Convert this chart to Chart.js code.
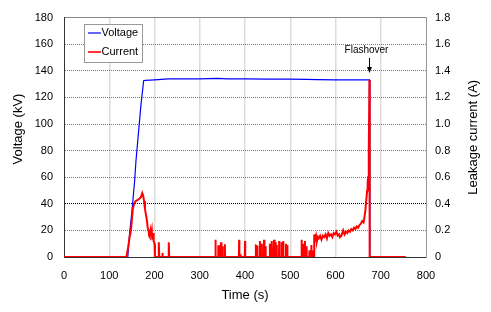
<!DOCTYPE html>
<html>
<head>
<meta charset="utf-8">
<script src="https://cdn.jsdelivr.net/npm/chart.js@4/dist/chart.umd.min.js"></script>
<style>
html,body{margin:0;padding:0;background:#fff;}
canvas{display:block;}
</style>
</head>
<body>
<canvas id="c" width="491" height="312"></canvas>
<script>
// ---- data ----
const xTicks = [0,100,200,300,400,500,600,700,800];
const leftTicks = [0,20,40,60,80,100,120,140,160,180];
const rightTicks = ['0','0.2','0.4','0.6','0.8','1.0','1.2','1.4','1.6','1.8'];
const seriesNames = ['Voltage','Current'];
const xTitle = 'Time (s)';
const leftTitle = 'Voltage (kV)';
const rightTitle = 'Leakage current (A)';
const flashoverLabel = 'Flashover';
const flashoverTime = 675;

const voltageTime = [0,141,145,150,156,159,165,170,176,180,190,200,215,230,260,300,340,360,400,450,500,536,560,600,640,675,676,755];
const voltageKV   = [0,0,18,34,57,72,95,114,132.5,132.8,133,133.2,133.6,134,134,134,134.3,134,134,133.8,133.8,133.5,133.3,133.2,133.2,133.2,0,0];

const currentTime = [0,138,142,145,148,150,152,155,158,163,167,170,173,175,177,179,181,183,185,187,188,189,190,191,192,194,195,197,198,200,201,
 209,209.5,210.5,217,217.5,218,231,231.5,232.5,
 334,334.5,335.5,340.5,341,344.5,345,346.5,347,348,350,350.4,351,355,355.5,356,
 386.5,387,387.5,389.5,390,390.5,399.5,400,400.5,
 423.5,424,427,427.5,432.5,433,434,436,436.7,437.5,441.5,442,443,445,445.5,446,454.5,455,455.5,458.5,459,460,463.5,464,464.5,465.5,466.5,467.5,468,469,470,470.5,475,475.6,476,480.5,481,482,484,484.5,485,490,490.5,491,493,493.4,494,
 524.5,525,525.5,528.5,529,529.5,532,532.5,533,535.5,536,536.5,541.5,542,542.5,546,546.5,547,549,549.5,550,
 552.5,553,555,557,559,561,563,566,569,572,575,578,581,584,587,590,593,596,599,602,605,608,610,613,617,620,623,626,629,632,635,638,641,644,647,650,653,656,659,662,664,666,668,670,671,672,673,674,675,675.5,755];
const currentA = [0,0,0.08,0.15,0.2,0.28,0.36,0.40,0.42,0.43,0.44,0.45,0.48,0.46,0.42,0.36,0.32,0.28,0.22,0.2,0.16,0.2,0.15,0.19,0.16,0.2,0.13,0.18,0.12,0.1,0,
 0,0.11,0,0,0.03,0,0,0.11,0,
 0,0.13,0,0,0.08,0.08,0,0,0.11,0,0,0.08,0,0,0.095,0,
 0,0.13,0,0,0.02,0,0,0.12,0,
 0,0.085,0.08,0,0,0.12,0,0,0.1,0,0,0.13,0,0,0.08,0,0,0.1,0,0,0.12,0,0,0.13,0.1,0.13,0,0,0.11,0,0.09,0,0,0.12,0,0,0.11,0,0,0.12,0,0,0.1,0,0,0.09,0,
 0,0.13,0,0,0.1,0,0,0.12,0,0,0.08,0,0,0.05,0,0,0.09,0,0,0.05,0,
 0,0.17,0.13,0.16,0.12,0.15,0.14,0.16,0.13,0.16,0.15,0.17,0.14,0.18,0.16,0.17,0.15,0.18,0.17,0.19,0.16,0.17,0.15,0.16,0.2,0.17,0.19,0.18,0.2,0.19,0.21,0.2,0.22,0.21,0.23,0.22,0.24,0.25,0.27,0.26,0.3,0.35,0.43,0.5,0.55,0.6,0.7,0.78,1.33,0,0];

// ---- chart ----
const FONT = '"Liberation Sans", Arial, sans-serif';

const overlay = {
  id: 'overlay',
  afterDraw(chart) {
    const ctx = chart.ctx;
    const ca = chart.chartArea;
    const xs = chart.scales.x;
    ctx.save();
    ctx.font = '13px ' + FONT;
    ctx.fillStyle = '#000';
    ctx.textAlign = 'center';
    ctx.textBaseline = 'middle';
    // left axis title
    ctx.save();
    ctx.translate(18, 129);
    ctx.rotate(-Math.PI / 2);
    ctx.fillText(leftTitle, 0, 0);
    ctx.restore();
    // right axis title (reads bottom to top)
    ctx.save();
    ctx.translate(473, (ca.top + ca.bottom) / 2);
    ctx.rotate(-Math.PI / 2);
    ctx.fillText(rightTitle, 0, 0);
    ctx.restore();

    // legend box
    const lx = 84.5, ly = 24.5, lw = 58, lh = 38;
    ctx.fillStyle = '#fff';
    ctx.fillRect(lx, ly, lw, lh);
    ctx.strokeStyle = '#999';
    ctx.lineWidth = 1;
    ctx.strokeRect(lx, ly, lw, lh);
    const items = [{c: '#0000ff', w: 1.2, y: 33}, {c: '#ff0000', w: 1.6, y: 52}];
    ctx.font = '11px ' + FONT;
    ctx.textAlign = 'left';
    items.forEach((it, i) => {
      ctx.strokeStyle = it.c;
      ctx.lineWidth = it.w;
      ctx.beginPath();
      ctx.moveTo(88, it.y);
      ctx.lineTo(101, it.y);
      ctx.stroke();
      ctx.fillStyle = '#000';
      ctx.fillText(seriesNames[i], 101.5, it.y);
    });

    // flashover annotation
    const fx = Math.round(xs.getPixelForValue(flashoverTime)) + 0.5;
    ctx.font = '10px ' + FONT;
    ctx.textAlign = 'center';
    ctx.fillStyle = '#000';
    ctx.fillText(flashoverLabel, fx - 3, 50);
    ctx.strokeStyle = '#000';
    ctx.lineWidth = 1;
    ctx.beginPath();
    ctx.moveTo(fx, 58);
    ctx.lineTo(fx, 71);
    ctx.stroke();
    ctx.beginPath();
    ctx.moveTo(fx - 2.5, 67);
    ctx.lineTo(fx, 73);
    ctx.lineTo(fx + 2.5, 67);
    ctx.closePath();
    ctx.fill();
    ctx.restore();
  }
};

const toPts = (xs, ys) => xs.map((x, i) => ({x: x, y: ys[i]}));

new Chart(document.getElementById('c'), {
  type: 'line',
  data: {
    datasets: [
      {
        label: seriesNames[0],
        data: toPts(voltageTime, voltageKV),
        borderColor: '#0000ff',
        borderWidth: 1.2,
        pointRadius: 0,
        tension: 0,
        yAxisID: 'y',
        order: 1
      },
      {
        label: seriesNames[1],
        data: toPts(currentTime, currentA),
        borderColor: '#ff0000',
        borderWidth: 2,
        pointRadius: 0,
        tension: 0,
        yAxisID: 'y1',
        order: 0
      }
    ]
  },
  options: {
    responsive: false,
    animation: false,
    devicePixelRatio: 1,
    layout: {padding: {top: 16, left: 0, right: 0, bottom: 0}},
    plugins: {legend: {display: false}, tooltip: {enabled: false}},
    scales: {
      x: {
        type: 'linear',
        min: xTicks[0],
        max: xTicks[xTicks.length - 1],
        afterBuildTicks: (s) => { s.ticks = xTicks.map(v => ({value: v})); },
        ticks: {font: {family: FONT, size: 11}, color: '#000', padding: 12, maxRotation: 0},
        grid: {
          drawTicks: false,
          lineWidth: 1.5,
          color: (c) => (c.tick && (c.tick.value === 0 || c.tick.value === 800)) ? 'rgba(0,0,0,0)' : '#dcdcdc'
        },
        border: {display: true, color: '#333', width: 1},
        title: {display: true, text: xTitle, font: {family: FONT, size: 13}, color: '#000', padding: {top: 0, bottom: 9}},
        afterFit: (s) => { s.height = 55; }
      },
      y: {
        type: 'linear',
        position: 'left',
        min: leftTicks[0],
        max: leftTicks[leftTicks.length - 1],
        afterBuildTicks: (s) => { s.ticks = leftTicks.map(v => ({value: v})); },
        ticks: {font: {family: FONT, size: 11}, color: '#000', padding: 11},
        grid: {
          drawTicks: false,
          lineWidth: 1,
          color: (c) => {
            if (!c.tick) return '#777';
            if (c.tick.value === 0) return 'rgba(0,0,0,0)';
            if (c.tick.value === 40) return '#000';
            if (c.tick.value === 180) return '#888';
            return '#777';
          }
        },
        border: {
          display: true, color: '#333', width: 1,
          dash: (c) => (c.tick && (c.tick.value === 180)) ? [] : [1, 1]
        },
        title: {display: false},
        afterFit: (s) => { s.width = 64; }
      },
      y1: {
        type: 'linear',
        position: 'right',
        min: 0,
        max: 1.8,
        afterBuildTicks: (s) => { s.ticks = rightTicks.map(v => ({value: parseFloat(v)})); },
        ticks: {
          font: {family: FONT, size: 11}, color: '#000', padding: 9,
          callback: (v, i) => rightTicks[i]
        },
        grid: {drawTicks: false, drawOnChartArea: false},
        border: {display: true, color: '#999', width: 1},
        afterFit: (s) => { s.width = 65; }
      }
    }
  },
  plugins: [overlay]
});
</script>
</body>
</html>
